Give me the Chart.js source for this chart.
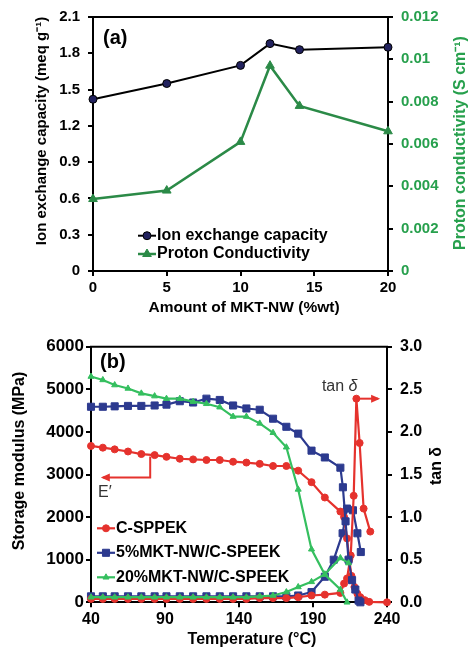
<!DOCTYPE html>
<html>
<head>
<meta charset="utf-8">
<script src="https://cdn.jsdelivr.net/npm/chart.js@4.4.0/dist/chart.umd.min.js"></script>
<style>
  html, body { margin: 0; padding: 0; background: #fff; }
  #wrap { position: relative; width: 468px; height: 647px; }
  #wrap canvas { position: absolute; left: 0; }
  #chartA { top: 0; }
  #chartB { top: 322px; }
</style>
</head>
<body>
<div id="wrap">
  <canvas id="chartA" width="468" height="322"></canvas>
  <canvas id="chartB" width="468" height="325"></canvas>
</div>
<script>
// ---- panel (a): IEC and proton conductivity vs MKT-NW loading
const mktAmount = [0, 5, 10, 12, 14, 20];
const iecValues = [1.42, 1.55, 1.70, 1.88, 1.83, 1.85];
const conductivity = [0.0034, 0.0038, 0.0061, 0.0097, 0.0078, 0.0066];
const amountTicks = [0, 5, 10, 15, 20];
const iecTicks = [0, 0.3, 0.6, 0.9, 1.2, 1.5, 1.8, 2.1];
const condTicks = [0, 0.002, 0.004, 0.006, 0.008, 0.01, 0.012];

// ---- panel (b): DMA, storage modulus and tan delta vs temperature
const tempTicks = [40, 90, 140, 190, 240];
const modulusTicks = [0, 1000, 2000, 3000, 4000, 5000, 6000];
const tanTicks = [0, 0.5, 1, 1.5, 2, 2.5, 3];

const csppekModT = [40, 48, 56, 65, 74, 83, 91, 100, 109, 118, 127, 136, 145, 154, 163, 172, 180, 189, 198, 208.5, 211, 213, 214.5, 216, 218, 220, 222, 225, 228, 240];
const csppekMod  = [3670, 3630, 3590, 3540, 3480, 3455, 3415, 3370, 3355, 3340, 3340, 3300, 3280, 3250, 3200, 3200, 3090, 2820, 2460, 2130, 2000, 1500, 1000, 620, 360, 200, 120, 50, 10, 0];
const csppekTanT = [40, 48, 56, 65, 74, 83, 91, 100, 109, 118, 127, 136, 145, 154, 163, 172, 180, 189, 198, 208.5, 211, 213, 215.5, 217.5, 219.3, 221.5, 224.2, 228.7];
const csppekTan  = [0.04, 0.04, 0.04, 0.04, 0.04, 0.04, 0.04, 0.04, 0.04, 0.04, 0.04, 0.04, 0.04, 0.05, 0.05, 0.05, 0.06, 0.08, 0.09, 0.11, 0.22, 0.28, 0.55, 1.25, 2.39, 1.87, 1.10, 0.83];

const mkt5ModT = [40, 48, 56, 65, 74, 83, 91, 100, 109, 118, 127, 136, 145, 154, 163, 172, 180, 189, 198, 208.5, 210.2, 212, 214, 216.4, 218.6, 220.8, 222];
const mkt5Mod  = [4590, 4590, 4600, 4610, 4610, 4620, 4640, 4720, 4690, 4780, 4750, 4620, 4550, 4520, 4310, 4120, 3960, 3560, 3400, 3160, 2700, 1900, 1000, 520, 300, 40, 0];
const mkt5TanT = [40, 48, 56, 65, 74, 83, 91, 100, 109, 118, 127, 136, 145, 154, 163, 172, 180, 189, 198, 204, 210, 213, 217, 220, 222.3];
const mkt5Tan  = [0.07, 0.07, 0.07, 0.07, 0.07, 0.07, 0.07, 0.07, 0.07, 0.07, 0.07, 0.07, 0.07, 0.07, 0.07, 0.07, 0.08, 0.12, 0.30, 0.50, 0.81, 1.10, 1.08, 0.81, 0.59];

const mkt20ModT = [40, 48, 56, 65, 74, 83, 91, 100, 109, 118, 127, 136, 145, 154, 163, 172, 180, 189, 198, 208.5, 213];
const mkt20Mod  = [5300, 5220, 5100, 5020, 4905, 4840, 4780, 4780, 4710, 4660, 4580, 4360, 4360, 4200, 3980, 3640, 2650, 1245, 650, 300, 0];
const mkt20TanT = [40, 48, 56, 65, 74, 83, 91, 100, 109, 118, 127, 136, 145, 154, 163, 172, 180, 189, 198, 208.5, 214];
const mkt20Tan  = [0.06, 0.06, 0.06, 0.06, 0.06, 0.06, 0.06, 0.06, 0.06, 0.06, 0.06, 0.06, 0.06, 0.07, 0.08, 0.12, 0.18, 0.24, 0.33, 0.52, 0.46];

const RED = '#e5322d', BLUE = '#2c3a8f', GREEN = '#35bf5f';
const PC_GREEN = '#2b8a47', PC_TEXT = '#27a04d';
const FONT = "'Liberation Sans', Arial, sans-serif";

Chart.defaults.font.family = FONT;
Chart.defaults.color = '#000';

const pts = (xs, ys) => xs.map((x, i) => ({ x, y: ys[i] }));
const fixTicks = list => scale => { scale.ticks = list.map(v => ({ value: v })); };

function axisGrid() {
  return { drawOnChartArea: false, drawTicks: true, tickLength: 5, color: '#000', lineWidth: 2 };
}

// box top edge (the other three sides come from the axes)
const frameTop = {
  id: 'frameTop',
  afterDraw(chart) {
    const { ctx, chartArea } = chart;
    ctx.save();
    ctx.strokeStyle = '#000';
    ctx.lineWidth = 2;
    ctx.beginPath();
    ctx.moveTo(chartArea.left - 1, chartArea.top);
    ctx.lineTo(chartArea.right + 1, chartArea.top);
    ctx.stroke();
    ctx.restore();
  }
};

// axis titles: both vertical titles read bottom-to-top in the original
const axisTitles = {
  id: 'axisTitles',
  afterDraw(chart, args, opts) {
    const { ctx } = chart;
    opts.items.forEach(t => {
      ctx.save();
      ctx.font = t.font;
      ctx.fillStyle = t.color || '#000';
      ctx.textAlign = 'center';
      ctx.textBaseline = 'middle';
      ctx.translate(t.x, t.y);
      if (t.vertical) ctx.rotate(-Math.PI / 2);
      ctx.fillText(t.text, 0, 0);
      ctx.restore();
    });
  }
};

function marker(ctx, ds, x, y) {
  ctx.fillStyle = ds.pointBackgroundColor;
  ctx.strokeStyle = ds.pointBorderColor;
  ctx.lineWidth = ds.pointBorderWidth || 1;
  if (Chart.helpers && Chart.helpers.drawPoint) {
    Chart.helpers.drawPoint(ctx, { pointStyle: ds.pointStyle, radius: ds.pointRadius, rotation: 0, borderWidth: ds.pointBorderWidth || 1 }, x, y);
  } else {
    ctx.beginPath(); ctx.arc(x, y, ds.pointRadius, 0, Math.PI * 2); ctx.fill(); ctx.stroke();
  }
}

// legend drawn inside the plot, like the original
const insetLegend = {
  id: 'insetLegend',
  afterDatasetsDraw(chart, args, opts) {
    const { ctx, chartArea } = chart;
    ctx.save();
    ctx.font = opts.font;
    ctx.textBaseline = 'middle';
    opts.items.forEach((idx, i) => {
      const ds = chart.data.datasets[idx];
      const x0 = chartArea.left + opts.x;
      const y = chartArea.top + opts.y + i * opts.gap;
      ctx.strokeStyle = ds.borderColor;
      ctx.lineWidth = ds.borderWidth;
      ctx.beginPath(); ctx.moveTo(x0, y); ctx.lineTo(x0 + opts.sample, y); ctx.stroke();
      marker(ctx, ds, x0 + opts.sample / 2, y);
      ctx.fillStyle = '#000';
      ctx.fillText(ds.label, x0 + opts.sample + 1, y);
    });
    ctx.restore();
  }
};

function arrow(ctx, pts, color) {
  ctx.strokeStyle = color; ctx.fillStyle = color; ctx.lineWidth = 2;
  ctx.beginPath();
  pts.forEach((p, i) => i ? ctx.lineTo(p[0], p[1]) : ctx.moveTo(p[0], p[1]));
  ctx.stroke();
  const a = pts[pts.length - 2], b = pts[pts.length - 1];
  const ang = Math.atan2(b[1] - a[1], b[0] - a[0]);
  const c = Math.cos(ang), s = Math.sin(ang);
  ctx.beginPath();
  ctx.moveTo(b[0] + 2 * c, b[1] + 2 * s);
  ctx.lineTo(b[0] - 7 * c + 4 * s, b[1] - 7 * s - 4 * c);
  ctx.lineTo(b[0] - 7 * c - 4 * s, b[1] - 7 * s + 4 * c);
  ctx.closePath(); ctx.fill();
}

const labelA = {
  id: 'labelA',
  afterDraw(chart) {
    const { ctx, chartArea } = chart;
    ctx.save();
    ctx.font = 'bold 20px ' + FONT;
    ctx.textBaseline = 'middle';
    ctx.fillStyle = '#000';
    ctx.fillText('(a)', chartArea.left + 10, chartArea.top + 21);
    ctx.restore();
  }
};

const dmaNotes = {
  id: 'dmaNotes',
  afterDatasetsDraw(chart) {
    const { ctx, chartArea, scales } = chart;
    const { x, y, y1 } = scales;
    ctx.save();
    ctx.font = 'bold 20px ' + FONT;
    ctx.textBaseline = 'middle';
    ctx.fillStyle = '#000';
    ctx.fillText('(b)', chartArea.left + 9, chartArea.top + 16);

    // tan delta label and arrow to the right axis
    ctx.font = '16px ' + FONT;
    ctx.fillStyle = '#333';
    const tx = x.getPixelForValue(196), ty = y1.getPixelForValue(2.53);
    ctx.fillText('tan ', tx, ty);
    const w = ctx.measureText('tan ').width;
    ctx.font = 'italic 16px ' + FONT;
    ctx.fillText('δ', tx + w, ty);
    arrow(ctx, [[x.getPixelForValue(219.5), y1.getPixelForValue(2.39)], [x.getPixelForValue(234), y1.getPixelForValue(2.39)]], RED);

    // E' label and arrow to the left axis
    ctx.font = '16px ' + FONT;
    ctx.fillStyle = '#333';
    ctx.fillText('E′', x.getPixelForValue(44.7), y.getPixelForValue(2566));
    arrow(ctx, [
      [x.getPixelForValue(80), y.getPixelForValue(3420)],
      [x.getPixelForValue(80), y.getPixelForValue(2930)],
      [x.getPixelForValue(48), y.getPixelForValue(2930)]
    ], RED);
    ctx.restore();
  }
};

// ---------- chart (a)
new Chart(document.getElementById('chartA'), {
  type: 'line',
  data: {
    datasets: [
      { label: 'Ion exchange capacity', data: pts(mktAmount, iecValues), yAxisID: 'y',
        borderColor: '#000', borderWidth: 2, pointStyle: 'circle', pointRadius: 4,
        pointBackgroundColor: '#22225e', pointBorderColor: '#000', pointBorderWidth: 1, clip: 8 },
      { label: 'Proton Conductivity', data: pts(mktAmount, conductivity), yAxisID: 'y1',
        borderColor: PC_GREEN, borderWidth: 2.5, pointStyle: 'triangle', pointRadius: 5,
        pointBackgroundColor: PC_GREEN, pointBorderColor: PC_GREEN, pointBorderWidth: 1, clip: 8 }
    ]
  },
  options: {
    responsive: false, animation: false, devicePixelRatio: 1,
    layout: { padding: { top: 17, left: 0, right: 0, bottom: 0 } },
    plugins: {
      legend: { display: false }, tooltip: { enabled: false },
      insetLegend: { font: 'bold 16px ' + FONT, items: [0, 1], x: 45, y: 218.7, gap: 18.3, sample: 18 },
      axisTitles: { items: [
        { text: 'Ion exchange capacity (meq g⁻¹)', x: 42, y: 131, vertical: true, font: 'bold 15px ' + FONT },
        { text: 'Proton conductivity (S cm⁻¹)', x: 461, y: 143, vertical: true, font: 'bold 16px ' + FONT, color: PC_TEXT },
        { text: 'Amount of MKT-NW (%wt)', x: 244, y: 308, font: 'bold 15.5px ' + FONT }
      ] }
    },
    scales: {
      x: {
        type: 'linear', min: 0, max: 20, afterBuildTicks: fixTicks(amountTicks),
        afterFit: s => { s.height = 51; },
        grid: axisGrid(), border: { color: '#000', width: 2 },
        ticks: { font: { size: 15, weight: 'bold' }, padding: 3 }
      },
      y: {
        position: 'left', min: 0, max: 2.1, afterBuildTicks: fixTicks(iecTicks),
        afterFit: s => { s.width = 93; },
        grid: axisGrid(), border: { color: '#000', width: 2 },
        ticks: { font: { size: 15, weight: 'bold' }, padding: 8, callback: v => v === 0 ? '0' : v.toFixed(1) }
      },
      y1: {
        position: 'right', min: 0, max: 0.012, afterBuildTicks: fixTicks(condTicks),
        afterFit: s => { s.width = 80; },
        grid: axisGrid(), border: { color: '#000', width: 2 },
        ticks: { color: PC_TEXT, font: { size: 15, weight: 'bold' }, padding: 8, callback: v => String(+v.toFixed(3)) }
      }
    }
  },
  plugins: [insetLegend, frameTop, labelA, axisTitles]
});

// ---------- chart (b)
function dmaSet(label, xs, ys, axis, color, style, radius, order) {
  return { label, data: pts(xs, ys), yAxisID: axis, borderColor: color, borderWidth: 2.2,
    pointStyle: style, pointRadius: radius, pointBackgroundColor: color, pointBorderColor: color,
    pointBorderWidth: 1, clip: 8, order };
}

new Chart(document.getElementById('chartB'), {
  type: 'line',
  data: {
    datasets: [
      dmaSet('C-SPPEK', csppekModT, csppekMod, 'y', RED, 'circle', 3.5, 3),
      dmaSet('5%MKT-NW/C-SPEEK', mkt5ModT, mkt5Mod, 'y', BLUE, 'rect', 5, 2),
      dmaSet('20%MKT-NW/C-SPEEK', mkt20ModT, mkt20Mod, 'y', GREEN, 'triangle', 3.5, 1),
      dmaSet('C-SPPEK tan δ', csppekTanT, csppekTan, 'y1', RED, 'circle', 3.5, 4),
      dmaSet('5%MKT-NW/C-SPEEK tan δ', mkt5TanT, mkt5Tan, 'y1', BLUE, 'rect', 5, 5),
      dmaSet('20%MKT-NW/C-SPEEK tan δ', mkt20TanT, mkt20Tan, 'y1', GREEN, 'triangle', 3.5, 0)
    ]
  },
  options: {
    responsive: false, animation: false, devicePixelRatio: 1,
    layout: { padding: { top: 24.7, left: 0, right: 0, bottom: 0 } },
    plugins: {
      legend: { display: false }, tooltip: { enabled: false },
      insetLegend: { font: 'bold 16px ' + FONT, items: [0, 1, 2], x: 6, y: 181.6, gap: 24.5, sample: 18 },
      axisTitles: { items: [
        { text: 'Storage modulus (MPa)', x: 20, y: 139, vertical: true, font: 'bold 16px ' + FONT },
        { text: 'tan δ', x: 437, y: 144, vertical: true, font: 'bold 16px ' + FONT },
        { text: 'Temperature (°C)', x: 252, y: 318, font: 'bold 16px ' + FONT }
      ] }
    },
    scales: {
      x: {
        type: 'linear', min: 40, max: 240, afterBuildTicks: fixTicks(tempTicks),
        afterFit: s => { s.height = 44.7; },
        grid: axisGrid(), border: { color: '#000', width: 2 },
        ticks: { font: { size: 16, weight: 'bold' }, padding: 3 }
      },
      y: {
        position: 'left', min: 0, max: 6000, afterBuildTicks: fixTicks(modulusTicks),
        afterFit: s => { s.width = 91; },
        grid: axisGrid(), border: { color: '#000', width: 2 },
        ticks: { font: { size: 17, weight: 'bold' }, padding: 2, callback: v => String(v) }
      },
      y1: {
        position: 'right', min: 0, max: 3, afterBuildTicks: fixTicks(tanTicks),
        afterFit: s => { s.width = 81; },
        grid: axisGrid(), border: { color: '#000', width: 2 },
        ticks: { font: { size: 16, weight: 'bold' }, padding: 8, callback: v => v.toFixed(1) }
      }
    }
  },
  plugins: [insetLegend, frameTop, dmaNotes, axisTitles]
});
</script>
</body>
</html>
